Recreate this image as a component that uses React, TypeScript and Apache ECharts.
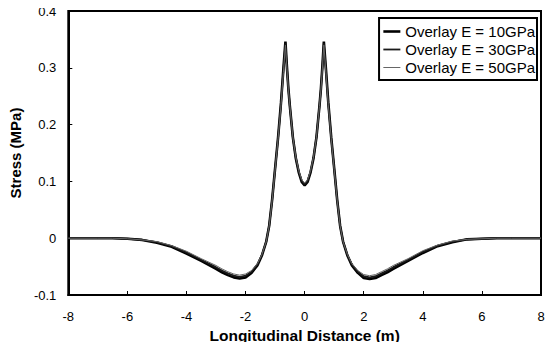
import React, { useEffect, useRef } from "react";
import * as echarts from "echarts";

const xPositions = [
  -8, -7, -6.5, -6, -5.5, -5, -4.5, -4, -3.5, -3, -2.8, -2.6, -2.4, -2.2, -2.0, -1.8, -1.6, -1.45, -1.3, -1.2, -1.1, -1.0, -0.9, -0.8, -0.72, -0.65, -0.6, -0.55, -0.5, -0.4, -0.3, -0.2, -0.1,
  0,
  0.1, 0.2, 0.3, 0.4, 0.5, 0.55, 0.6, 0.65, 0.72, 0.8, 0.9, 1.0, 1.1, 1.2, 1.3, 1.45, 1.6, 1.8, 2.0, 2.2, 2.4, 2.6, 2.8, 3, 3.5, 4, 4.5, 5, 5.5, 6, 6.5, 7, 8,
];

const stressE10 = [
  0, 0, 0, -0.001, -0.003, -0.008, -0.015, -0.027, -0.04, -0.054, -0.06, -0.065, -0.069, -0.071, -0.069, -0.061, -0.048, -0.031, -0.006, 0.022, 0.068, 0.123, 0.177, 0.239, 0.298, 0.346, 0.302, 0.263, 0.232, 0.178, 0.141, 0.116, 0.099,
  0.093,
  0.099, 0.116, 0.141, 0.178, 0.232, 0.263, 0.302, 0.346, 0.298, 0.239, 0.177, 0.123, 0.068, 0.022, -0.006, -0.031, -0.048, -0.061, -0.07, -0.072, -0.07, -0.065, -0.06, -0.054, -0.04, -0.026, -0.014, -0.007, -0.002, -0.001, 0, 0, 0,
];

const stressE30 = [
  0, 0, 0, -0.001, -0.003, -0.007, -0.014, -0.025, -0.038, -0.051, -0.057, -0.062, -0.066, -0.068, -0.066, -0.059, -0.046, -0.03, -0.006, 0.022, 0.068, 0.122, 0.176, 0.237, 0.295, 0.343, 0.3, 0.262, 0.232, 0.178, 0.142, 0.117, 0.101,
  0.095,
  0.101, 0.117, 0.142, 0.178, 0.232, 0.262, 0.3, 0.343, 0.295, 0.237, 0.176, 0.122, 0.068, 0.022, -0.006, -0.03, -0.046, -0.059, -0.067, -0.069, -0.067, -0.062, -0.057, -0.051, -0.038, -0.024, -0.013, -0.006, -0.002, -0.001, 0, 0, 0,
];

const stressE50 = [
  0, 0, 0, -0.001, -0.003, -0.006, -0.013, -0.023, -0.036, -0.048, -0.054, -0.059, -0.063, -0.065, -0.063, -0.057, -0.045, -0.029, -0.006, 0.022, 0.067, 0.121, 0.175, 0.235, 0.292, 0.34, 0.298, 0.261, 0.232, 0.178, 0.143, 0.119, 0.103,
  0.097,
  0.103, 0.119, 0.143, 0.178, 0.232, 0.261, 0.298, 0.34, 0.292, 0.235, 0.175, 0.121, 0.067, 0.022, -0.006, -0.029, -0.045, -0.057, -0.064, -0.066, -0.064, -0.059, -0.054, -0.048, -0.036, -0.022, -0.012, -0.005, -0.002, -0.001, 0, 0, 0,
];

const seriesNames = ["Overlay E = 10GPa", "Overlay E = 30GPa", "Overlay E = 50GPa"];
const xTitle = "Longitudinal Distance (m)";
const yTitle = "Stress (MPa)";

const FONT = "'Liberation Sans', Arial, sans-serif";

export default function App() {
  const ref = useRef<HTMLDivElement>(null);

  useEffect(() => {
    if (!ref.current) return;
    const chart = echarts.init(ref.current, undefined, { renderer: "svg" });
    const toPairs = (ys: number[]) => xPositions.map((x, i) => [x, ys[i]]);
    const styles = [
      { color: "#000", width: 2.6 },
      { color: "#1a1a1a", width: 1.8 },
      { color: "#666", width: 1 },
    ];
    const all = [stressE10, stressE30, stressE50];
    chart.setOption({
      animation: false,
      backgroundColor: "#fff",
      textStyle: { fontFamily: FONT },
      grid: {
        left: 62,
        right: 13,
        top: 11,
        bottom: 55,
        show: true,
        borderColor: "#000",
        borderWidth: 2,
      },
      legend: {
        orient: "vertical",
        right: 17,
        top: 18,
        data: seriesNames.map((n, i) => ({
          name: n,
          itemStyle: { opacity: 0 },
          lineStyle: { color: styles[i].color, width: styles[i].width },
        })),
        itemWidth: 17,
        itemHeight: 14,
        itemGap: 3,
        padding: [6, 2, 5, 3],
        borderColor: "#000",
        borderWidth: 2,
        backgroundColor: "#fff",
        textStyle: { fontFamily: FONT, fontSize: 15, color: "#000" },
      },
      xAxis: {
        type: "value",
        min: -8,
        max: 8,
        interval: 2,
        name: xTitle,
        nameLocation: "middle",
        nameGap: 29,
        nameTextStyle: { fontFamily: FONT, fontSize: 15.5, fontWeight: "bold", color: "#000" },
        axisLine: { show: true, onZero: false, lineStyle: { color: "#000", width: 2 } },
        axisTick: { show: true, inside: true, length: 4, lineStyle: { color: "#000", width: 1 } },
        axisLabel: { fontFamily: FONT, fontSize: 13, color: "#000", margin: 15 },
        splitLine: { show: false },
      },
      yAxis: {
        type: "value",
        min: -0.1,
        max: 0.4,
        interval: 0.1,
        name: yTitle,
        nameLocation: "middle",
        nameGap: 37,
        nameTextStyle: { fontFamily: FONT, fontSize: 15, fontWeight: "bold", color: "#000" },
        axisLine: { show: true, onZero: false, lineStyle: { color: "#000", width: 2 } },
        axisTick: { show: true, inside: true, length: 4, lineStyle: { color: "#000", width: 1 } },
        axisLabel: {
          fontFamily: FONT,
          fontSize: 13,
          color: "#000",
          margin: 12,
          formatter: (v: number) => String(Math.round(v * 10) / 10),
        },
        splitLine: { show: false },
      },
      series: all.map((ys, i) => ({
        type: "line",
        name: seriesNames[i],
        data: toPairs(ys),
        showSymbol: false,
        symbol: "none",
        smooth: false,
        lineStyle: { color: styles[i].color, width: styles[i].width },
        itemStyle: { color: styles[i].color },
        z: 2 + i,
      })),
    });
    return () => chart.dispose();
  }, []);

  return <div ref={ref} style={{ width: 554, height: 350, margin: -8 }} />;
}
